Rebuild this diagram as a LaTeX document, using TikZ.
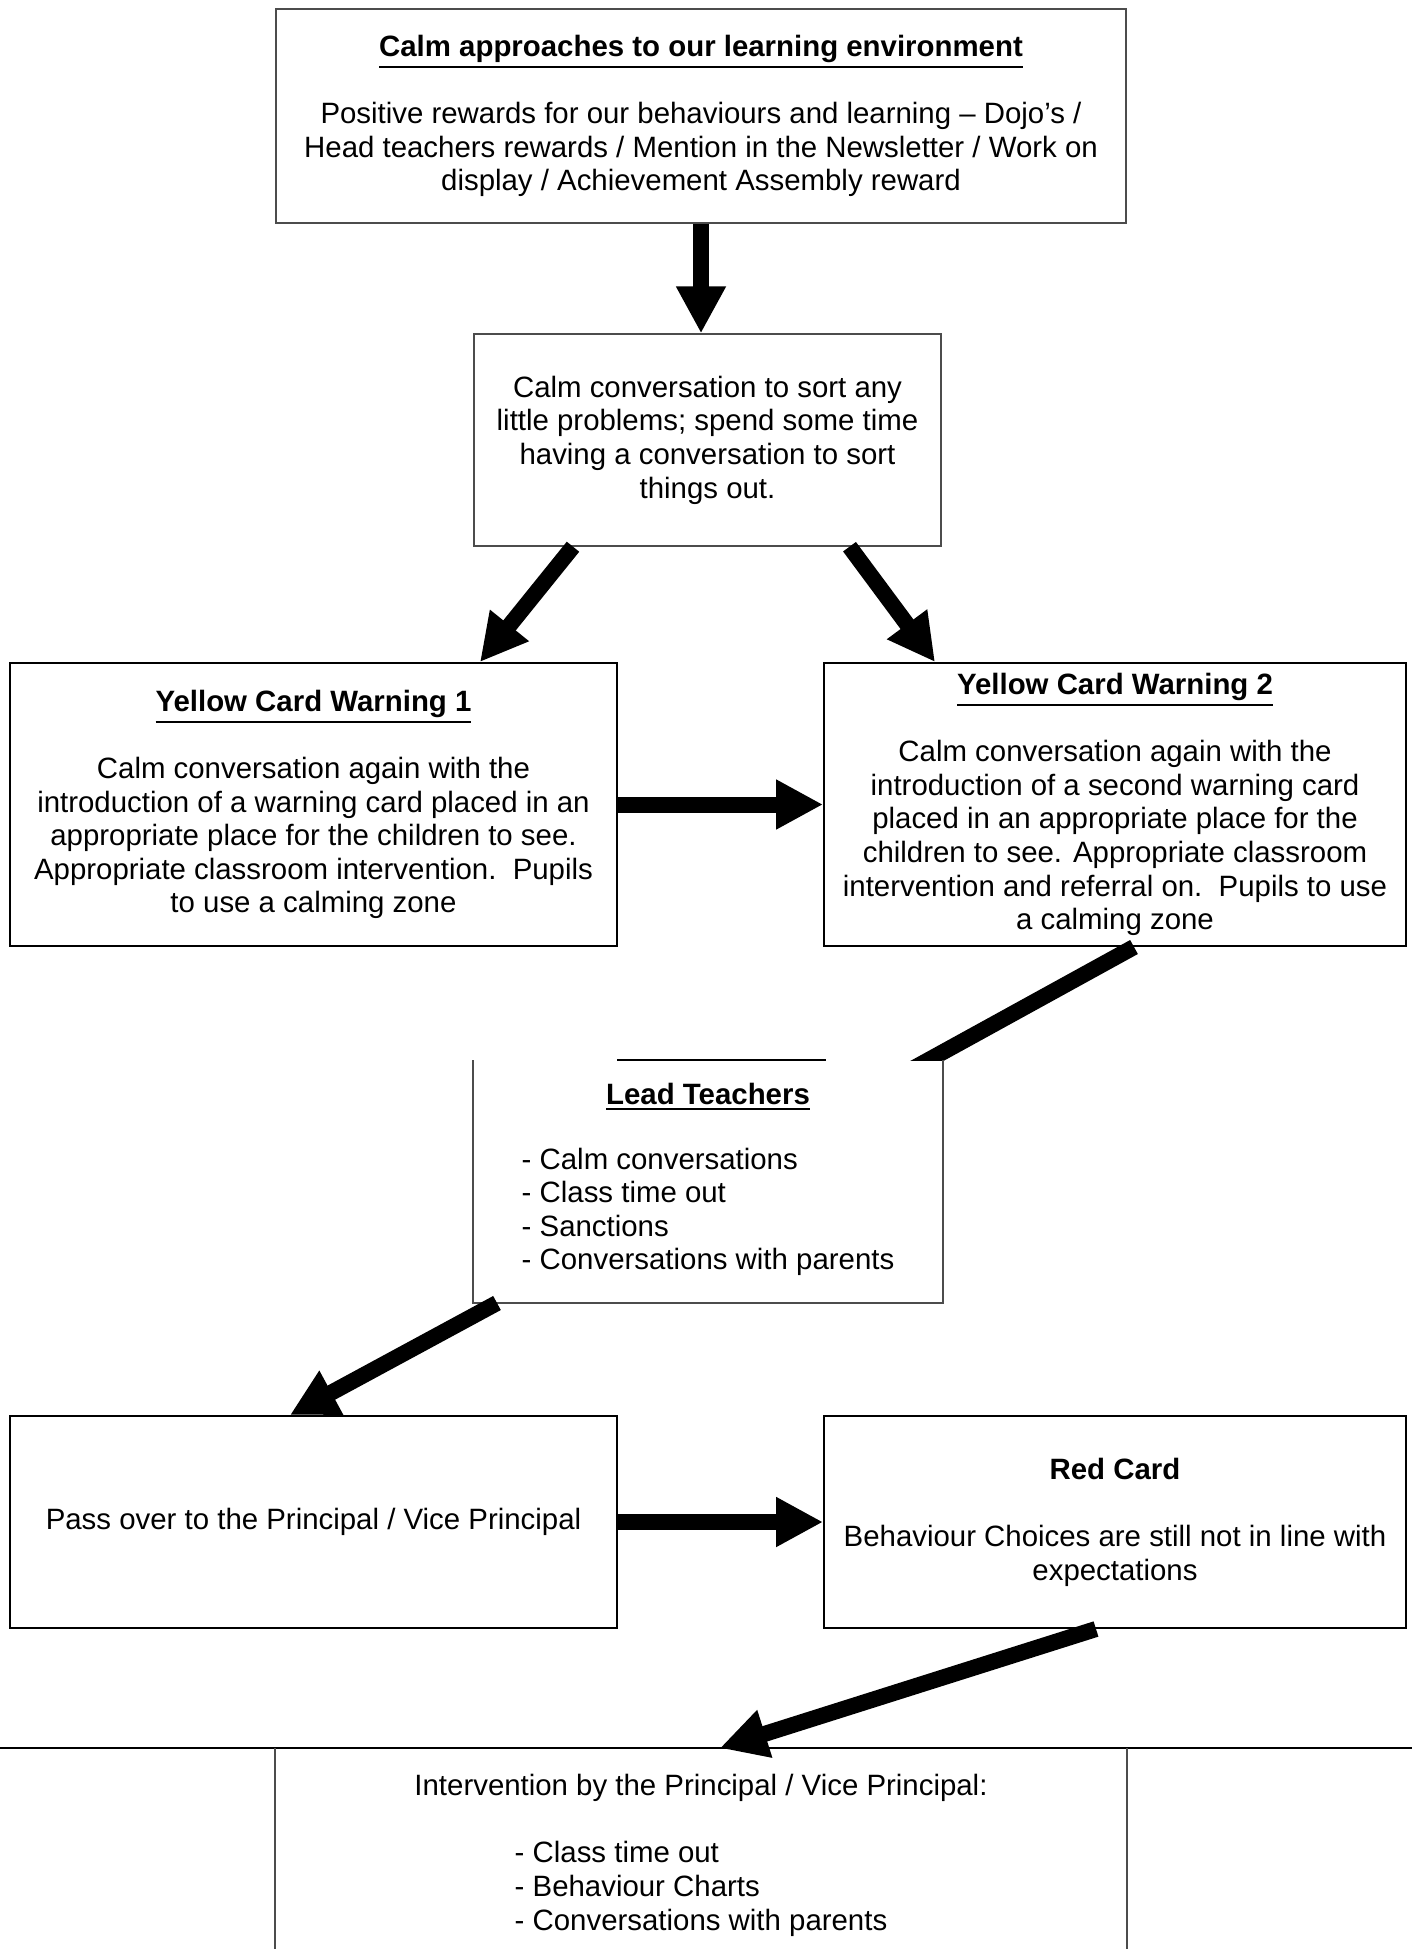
\documentclass[tikz,border=0pt]{standalone}
\usepackage{fontspec}
\setmainfont{Liberation Sans}
\usetikzlibrary{arrows.meta,backgrounds}

\newcommand{\boxtitle}[1]{\leavevmode\vtop{\hbox{\textbf{#1}}\kern1.6pt\hrule height 1.1pt}}

\tikzset{
  box/.style={rectangle, draw=black, line width=1pt, align=center, inner sep=0pt,
    font=\fontsize{14.7}{16.8}\selectfont},
  softbox/.style={box, draw=black!70, line width=0.7pt},
  bigarrow/.style={line width=8pt, -{Triangle[length=23.5pt,width=23.5pt]}}
}

\begin{document}
\begin{tikzpicture}[x=0.5pt, y=-0.5pt]
\useasboundingbox (0,0) rectangle (1412,1949);
\coordinate (left) at (0,0);
\coordinate (right) at (1412,0);

\node[softbox, minimum width=425pt, minimum height=107pt] (top) at (701,116)
  {\boxtitle{Calm approaches to our learning environment}\\[16.8pt]
   Positive rewards for our behaviours and learning -- Dojo's /\\
   Head teachers rewards / Mention in the Newsletter / Work on\\
   display / Achievement Assembly reward};
\node[softbox, minimum width=233.5pt, minimum height=106pt] (calm) at (707.5,440)
  {Calm conversation to sort any\\little problems; spend some time\\
   having a conversation to sort\\things out.};

\node[box, minimum width=303.5pt, minimum height=141.5pt] (yellowA) at (313.5,804.5)
  {\boxtitle{Yellow Card Warning 1}\\[16.8pt]
   Calm conversation again with the\\
   introduction of a warning card placed in an\\
   appropriate place for the children to see.\\
   Appropriate classroom intervention.\ \ Pupils\\
   to use a calming zone};
\node[box, minimum width=291pt, minimum height=141.5pt] (yellowB) at (1115,804.5)
  {\boxtitle{Yellow Card Warning 2}\\[16.8pt]
   Calm conversation again with the\\
   introduction of a second warning card\\
   placed in an appropriate place for the\\
   children to see. Appropriate classroom\\
   intervention and referral on.\ \ Pupils to use\\
   a calming zone};

\node[box, draw=none, fill=white, minimum width=234pt, minimum height=120.5pt] (lead) at (708,1181.5)
  {\boxtitle{Lead Teachers}\\[16.8pt]
   \begin{tabular}{@{}l@{}}
   - Calm conversations\\
   - Class time out\\
   - Sanctions\\
   - Conversations with parents
   \end{tabular}};
\draw[black!70, line width=0.7pt] (lead.north west) -- (lead.south west) -- (lead.south east) -- (lead.north east);
\draw[line width=1pt] ([xshift=72pt]lead.north west) -- ([xshift=-58.5pt]lead.north east);

\node[box, minimum width=303.5pt, minimum height=106pt] (pass) at (313.5,1522)
  {Pass over to the Principal / Vice Principal};
\node[box, minimum width=291pt, minimum height=106pt] (red) at (1115,1522)
  {\textbf{Red Card}\\[16.8pt]
   Behaviour Choices are still not in line with\\
   expectations};

\node[box, draw=none, minimum width=425pt, minimum height=102pt] (interv) at (701,1851)
  {\\[0pt]Intervention by the Principal / Vice Principal:\\[18pt]
   \begin{tabular}{@{}l@{}}
   - Class time out\\
   - Behaviour Charts\\
   - Conversations with parents
   \end{tabular}};
\draw[line width=1.2pt] (interv.north -| left) -- (interv.north -| right);
\draw[black!70, line width=0.6pt] (interv.north west) -- (interv.south west);
\draw[black!70, line width=0.6pt] (interv.north east) -- (interv.south east);

\draw[bigarrow] (top.south) -- (top.south |- calm.north);
\draw[bigarrow] ([xshift=-67.25pt]calm.south) -- ([xshift=-69pt]yellowA.north east);
\draw[bigarrow] ([xshift=71pt]calm.south) -- ([xshift=56pt]yellowB.north west);
\draw[bigarrow] (yellowA.east) -- (yellowB.west);
\begin{scope}[on background layer]
\draw[bigarrow] ([xshift=9.5pt]yellowB.south) -- ([xshift=-49pt,yshift=-23pt]lead.north east);
\end{scope}
\draw[bigarrow] ([xshift=-105.5pt]lead.south) -- ([xshift=-11.75pt]pass.north);
\draw[bigarrow] (pass.east) -- (red.west);
\draw[bigarrow] ([xshift=-9.5pt]red.south) -- ([xshift=9.5pt]interv.north);
\end{tikzpicture}
\end{document}
